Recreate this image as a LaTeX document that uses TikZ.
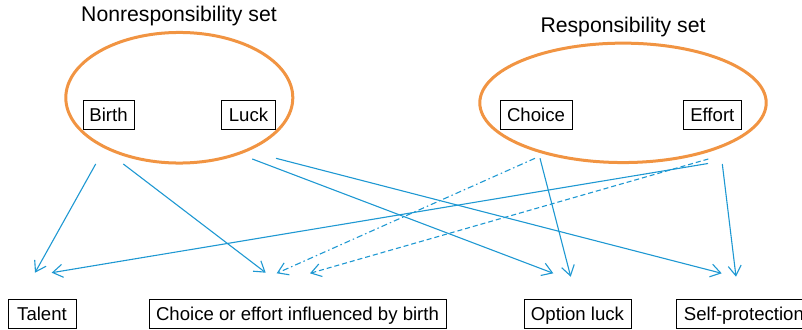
\documentclass[tikz,border=0pt]{standalone}
\usepackage{fontspec}
\setmainfont{Liberation Sans}
\usetikzlibrary{arrows.meta}
\definecolor{arrblue}{RGB}{30,152,210}
\definecolor{setorange}{RGB}{241,148,66}
\begin{document}
\begin{tikzpicture}[x=1pt,y=-1pt,
  box/.style={draw, line width=0.9pt, inner sep=0pt, minimum height=29pt,
    text height=13.3pt, text depth=0pt, font=\fontsize{18.6}{22}\selectfont},
  settitle/.style={font=\fontsize{21.2}{25}\selectfont, anchor=base, inner sep=0pt},
  setellipse/.style={draw=setorange, line width=3pt},
  conn/.style={draw=arrblue, line width=1.1pt,
    -{Straight Barb[length=10pt,width=13pt,line width=1.1pt]}},
  dashdotconn/.style={conn, dash pattern=on 6pt off 3pt on 1.5pt off 3pt},
  dashconn/.style={conn, dash pattern=on 5pt off 3pt}]
\useasboundingbox (0,0) rectangle (802,329);

% sets
\draw[setellipse] (179.3,97.75) ellipse [x radius=113.5, y radius=65.3];
\draw[setellipse] (623,102.85) ellipse [x radius=143.2, y radius=59.7];
\node[settitle] (nontitle) at (179,22) {Nonresponsibility set};
\node[settitle] (restitle) at (623,32.3) {Responsibility set};

% source boxes
\node[box, minimum width=51pt] (birth) at (108.5,114.5) {Birth};
\node[box, minimum width=54pt] (luck) at (248.5,114.5) {Luck};
\node[box, minimum width=72pt] (choice) at (536,114.5) {Choice};
\node[box, minimum width=58pt] (effort) at (712.3,114.5) {Effort};

% target boxes
\node[box, minimum width=68pt] (talent) at (42,314) {Talent};
\node[box, minimum width=297pt] (coe) at (297.5,314) {Choice or effort influenced by birth};
\node[box, minimum width=107pt] (optluck) at (577.5,314) {Option luck};
\node[box, anchor=west, inner xsep=7.5pt, text width=140pt, align=left] (selfprot) at (676,314) {Self-protection};

% connector ends
\coordinate (b1) at (95.7,164);
\coordinate (b2) at (123.3,164);
\coordinate (l1) at (252.3,159);
\coordinate (l2) at (276,158.3);
\coordinate (ch1) at (540,158.3);
\coordinate (ch2) at (535,158.3);
\coordinate (e1) at (708.3,159);
\coordinate (e2) at (708,163.5);
\coordinate (e3) at (722.3,164);
\coordinate (t1) at (35,272.7);
\coordinate (t2) at (51.7,272.7);
\coordinate (c1) at (265.7,272.7);
\coordinate (c2) at (276.7,273.3);
\coordinate (c3) at (310,273.3);
\coordinate (o1) at (553.3,273.3);
\coordinate (o2) at (570.7,276.7);
\coordinate (s1) at (721.7,273.3);
\coordinate (s2) at (736,276.7);

% connectors
\draw[conn] (b1) -- (t1);
\draw[conn] (b2) -- (c1);
\draw[conn] (l1) -- (o1);
\draw[conn] (l2) -- (s1);
\draw[conn] (ch1) -- (o2);
\draw[dashdotconn] (ch2) -- (c2);
\draw[dashconn] (e1) -- (c3);
\draw[conn] (e2) -- (t2);
\draw[conn] (e3) -- (s2);
\end{tikzpicture}
\end{document}
